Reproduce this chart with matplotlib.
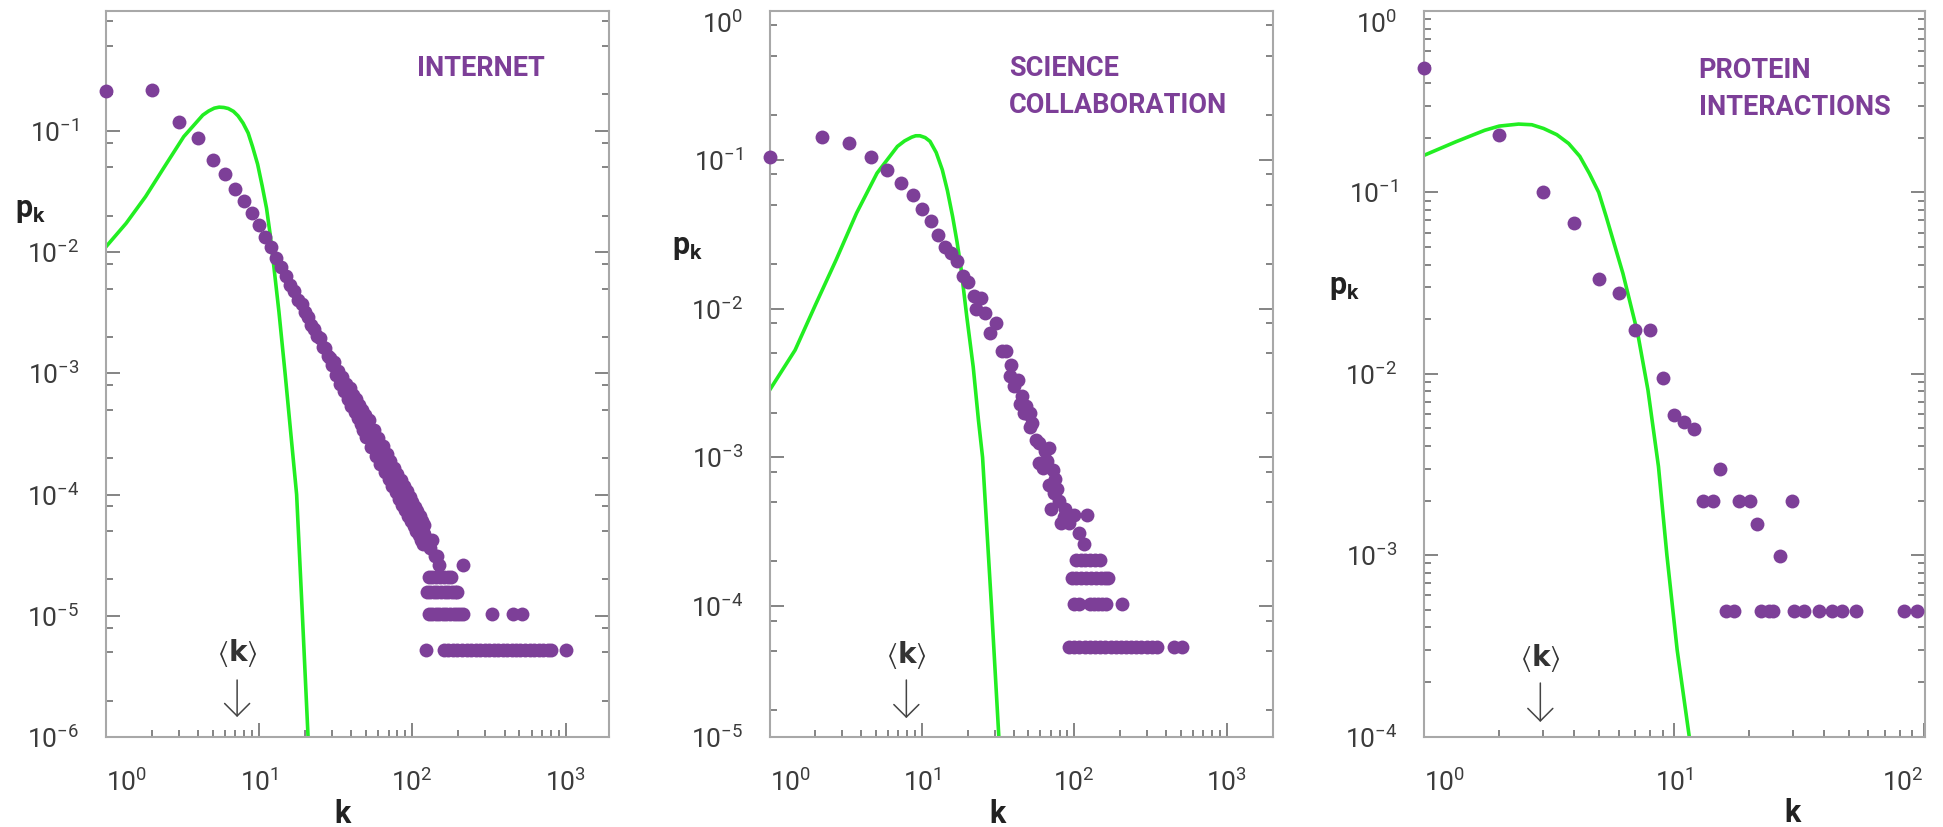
import numpy as np
import matplotlib
matplotlib.use("Agg")
import matplotlib.pyplot as plt
from matplotlib.ticker import FixedLocator, FixedFormatter, NullFormatter, LogLocator

plt.rcParams['font.family'] = ['Roboto', 'DejaVu Sans']
plt.rcParams['mathtext.default'] = 'regular'

PURPLE = '#7D3F98'
GREEN = '#22EE22'
SPINE = '#a8a8a8'
TICK = '#707070'
LABEL = '#3c3c3c'

# ---------------- INTERNET ----------------
int_k_main = [1, 2, 3, 4, 5, 6, 7, 8, 9,
              10, 11, 12, 13, 14, 15, 16, 17, 18, 19, 20, 21, 22, 23, 24, 25, 26, 27, 28, 29, 30,
              31, 32, 33, 34, 35, 36, 37, 38, 39, 40, 41, 42, 43, 44, 45, 46, 47, 48, 49, 50,
              52, 54, 56, 58, 60, 62, 64, 66, 68, 70, 72, 74, 76, 78, 80, 82, 84, 86, 88, 90,
              92, 94, 96, 98, 100, 102, 104, 106, 108, 110, 112, 114, 116, 118, 120,
              51, 53, 55, 57, 59, 61, 63, 65, 67, 69, 71, 73, 75, 77, 79, 81, 83, 85, 87, 89,
              91, 93, 95, 97, 99, 101, 103, 105, 107, 109, 111, 113, 115, 117, 119,
              125, 130, 135, 140, 144, 150]
int_p_main = [0.214, 0.218, 0.119, 0.087, 0.057, 0.044, 0.033, 0.0264, 0.0209,
              0.0166, 0.0132, 0.0110, 0.0089, 0.0076, 0.0063, 0.0054, 0.0048, 0.0040, 0.0037, 0.0032,
              0.0029, 0.0025, 0.00234, 0.00204, 0.00195, 0.00166, 0.00162, 0.00138, 0.00135, 0.00117,
              0.00124, 0.00097, 0.00104, 0.00082, 0.00094, 0.00071, 0.00082, 0.00062, 0.00075, 0.00054,
              0.00066, 0.00048, 0.00061, 0.00043, 0.00055, 0.00038, 0.00050, 0.00034, 0.00045, 0.00030,
              4.10e-4, 2.48e-4, 3.44e-4, 2.09e-4, 2.92e-4, 1.79e-4, 2.51e-4, 1.54e-4, 2.17e-4, 1.34e-4,
              1.90e-4, 1.17e-4, 1.67e-4, 1.04e-4, 1.48e-4, 9.2e-5, 1.32e-4, 8.2e-5, 1.18e-4, 7.4e-5,
              1.06e-4, 6.7e-5, 9.6e-5, 6.0e-5, 8.7e-5, 5.5e-5, 7.9e-5, 5.0e-5, 7.3e-5, 4.6e-5,
              6.7e-5, 4.2e-5, 6.1e-5, 3.9e-5, 5.6e-5,
              3.49e-4, 3.18e-4, 2.92e-4, 2.68e-4, 2.47e-4, 2.29e-4, 2.12e-4, 1.97e-4, 1.83e-4, 1.71e-4,
              1.59e-4, 1.49e-4, 1.40e-4, 1.32e-4, 1.24e-4, 1.17e-4, 1.10e-4, 1.04e-4, 9.8e-5, 9.3e-5,
              8.9e-5, 8.4e-5, 8.0e-5, 7.6e-5, 7.2e-5, 6.9e-5, 6.6e-5, 6.3e-5, 6.0e-5, 5.8e-5,
              5.5e-5, 5.3e-5, 5.1e-5, 4.9e-5, 4.7e-5,
              0.000042, 0.000036, 0.000042, 0.000031, 0.000031, 0.000026]
int_tail_levels = [5.2e-6, 1.04e-5, 1.56e-5, 2.08e-5, 2.6e-5]
int_tail_k1 = [122, 161, 172, 184, 197, 211, 226, 242, 259, 277, 296, 317, 339, 363, 388, 415,
               444, 475, 508, 544, 582, 623, 667, 714, 764, 804, 1012]
int_tail_k2 = [128, 135, 142, 150, 158, 167, 176, 186, 196, 206, 214, 330, 453, 523]
int_tail_k3 = [124, 131, 138, 146, 154, 163, 172, 181, 190, 197]
int_tail_k4 = [128, 135, 143, 151, 160, 170, 180]
int_tail_k5 = [214]
int_fit_k = [1.0, 1.36, 1.82, 2.42, 3.23, 4.30, 4.7, 5.11, 5.5, 5.90, 6.3, 6.81, 7.3, 7.87,
             8.5, 9.08, 9.8, 10.5, 11.2, 11.8, 12.2, 13.5, 14.8, 17.6, 19.2, 20.9, 21.5]
int_fit_p = [0.011, 0.0173, 0.0287, 0.0507, 0.0897, 0.135, 0.146, 0.154, 0.157, 0.156, 0.153,
             0.145, 0.133, 0.116, 0.096, 0.074, 0.053, 0.035, 0.023, 0.0143, 0.010, 0.0032,
             0.001, 1e-4, 1e-5, 1e-6, 3e-7]
int_mean_k = 7.2

# ---------------- SCIENCE COLLABORATION ----------------
sci_k_main = [1, 2.2, 3.3, 4.6, 5.9, 7.3, 8.7, 10, 11.5, 12.8,
              14.2, 15.6, 17.1, 18.6, 20.1, 22.1, 22.8, 24.5, 26.1, 28.1,
              30.5, 33.4, 35.5, 37.8, 38.5, 42.8, 44.2, 45.5, 47, 48.4,
              50, 51.5, 51.5, 58.3, 58.3, 62, 64, 68, 68, 70,
              72, 75, 77, 79, 82, 87, 99, 108, 115, 122,
              40, 53, 56, 66, 74, 85, 92]
sci_p_main = [0.105, 0.142, 0.129, 0.105, 0.085, 0.070, 0.058, 0.047, 0.039, 0.031,
              0.026, 0.0235, 0.021, 0.0166, 0.0152, 0.0121, 0.0100, 0.0118, 0.0093, 0.0069,
              0.0080, 0.0052, 0.0052, 0.0035, 0.0042, 0.0033, 0.0023, 0.0026, 0.0020, 0.0022,
              0.00197, 0.0020, 0.0016, 0.00124, 0.00091, 0.00085, 0.00111, 0.00115, 0.00065, 0.00045,
              0.00082, 0.00072, 0.00061, 0.00051, 0.00036, 0.00045, 0.00041, 0.00031, 0.00026, 0.00041,
              0.0030, 0.0017, 0.0013, 0.00095, 0.00058, 0.00040, 0.00036]
sci_tail_levels = [5.3e-5, 1.04e-4, 1.55e-4, 2.05e-4]
sci_tail_k1 = [93, 100, 108, 117, 127, 137, 148, 160, 173, 187, 202, 218, 236, 255, 276, 298,
               322, 350, 449, 507]
sci_tail_k2 = [100, 108, 126, 134, 143, 152, 161, 207]
sci_tail_k3 = [96, 103, 111, 119, 128, 138, 149, 160, 167]
sci_tail_k4 = [102, 110, 118, 127, 137, 148]
sci_fit_k = [1.0, 1.47, 2.0, 2.73, 3.72, 5.07, 6.90, 7.7, 8.57, 9.1, 9.70, 10.5, 11.3, 12.4,
             13.6, 14.7, 15.9, 17.0, 18.0, 19.7, 21.7, 23.5, 25.0, 28.6, 32.0, 33.0]
sci_fit_p = [0.00283, 0.00526, 0.0106, 0.0212, 0.0438, 0.0813, 0.123, 0.134, 0.142, 0.145, 0.145,
             0.141, 0.133, 0.112, 0.0857, 0.062, 0.0415, 0.028, 0.0191, 0.0088, 0.00406, 0.00177,
             0.001, 1e-4, 1.3e-5, 7e-6]
sci_mean_k = 7.9

# ---------------- PROTEIN INTERACTIONS ----------------
pro_k = [1, 2, 3, 4, 5, 6, 7, 8, 9, 10, 11, 12, 13.1, 14.3, 15.3, 18.2, 20.2, 21.4, 26.5, 29.7,
         16.1, 17.4, 22.3, 24.1, 25.0, 30.3, 33.0, 37.9, 42.9, 47.2, 53.4, 83.5, 93.7]
pro_p = [0.485, 0.207, 0.1007, 0.068, 0.0335, 0.0277, 0.0174, 0.0174, 0.00944, 0.0059, 0.00544,
         0.00494, 0.00199, 0.00199, 0.00297, 0.00199, 0.00199, 0.00148, 0.00099, 0.00199,
         4.95e-4, 4.95e-4, 4.95e-4, 4.95e-4, 4.95e-4, 4.95e-4, 4.95e-4, 4.95e-4, 4.95e-4,
         4.95e-4, 4.95e-4, 4.95e-4, 4.95e-4]
pro_fit_k = [1.0, 1.34, 1.75, 2.0, 2.39, 2.7, 3.01, 3.4, 3.79, 4.2, 4.59, 5.0, 5.36, 6.25,
             7.16, 7.87, 8.67, 9.37, 10.3, 11.5, 11.8]
pro_fit_p = [0.160, 0.190, 0.220, 0.232, 0.238, 0.236, 0.225, 0.208, 0.186, 0.158, 0.127,
             0.100, 0.0733, 0.0357, 0.0167, 0.00813, 0.00308, 0.001, 0.0003, 0.000101, 7e-5]
pro_mean_k = 2.92

# ---------------- axes text ----------------
titles = ['INTERNET', 'SCIENCE\nCOLLABORATION', 'PROTEIN\nINTERACTIONS']
x_ticks_13 = [1, 10, 100, 1000]
x_labels_13 = ['$10^{0}$', '$10^{1}$', '$10^{2}$', '$10^{3}$']
x_ticks_3 = [1, 10, 100]
x_labels_3 = ['$10^{0}$', '$10^{1}$', '$10^{2}$']
y_ticks_1 = [1, 1e-1, 1e-2, 1e-3, 1e-4, 1e-5, 1e-6]
y_labels_1 = ['$10^{0}$', '$10^{-1}$', '$10^{-2}$', '$10^{-3}$', '$10^{-4}$', '$10^{-5}$', '$10^{-6}$']
y_ticks_2 = [1, 1e-1, 1e-2, 1e-3, 1e-4, 1.32e-5]
y_labels_2 = ['$10^{0}$', '$10^{-1}$', '$10^{-2}$', '$10^{-3}$', '$10^{-4}$', '$10^{-5}$']
y_ticks_3 = [1, 1e-1, 1e-2, 1e-3, 1e-4]
y_labels_3 = ['$10^{0}$', '$10^{-1}$', '$10^{-2}$', '$10^{-3}$', '$10^{-4}$']

W, H = 1943, 827
fig = plt.figure(figsize=(W / 100, H / 100), dpi=100)


def add_ax(x0, x1, y0, y1):
    return fig.add_axes([x0 / W, (H - y1) / H, (x1 - x0) / W, (y1 - y0) / H])


def setup(ax, xlim, ylim, xt, xl, yt, yl, ysubs):
    ax.set_xscale('log')
    ax.set_yscale('log')
    ax.set_xlim(*xlim)
    ax.set_ylim(*ylim)
    ax.xaxis.set_major_locator(FixedLocator(xt))
    ax.xaxis.set_major_formatter(FixedFormatter(xl))
    ax.xaxis.set_minor_locator(LogLocator(base=10, subs=np.arange(2, 10), numticks=50))
    ax.xaxis.set_minor_formatter(NullFormatter())
    ax.yaxis.set_major_locator(FixedLocator(yt))
    ax.yaxis.set_major_formatter(FixedFormatter(yl))
    ax.yaxis.set_minor_locator(LogLocator(base=10, subs=ysubs, numticks=50))
    ax.yaxis.set_minor_formatter(NullFormatter())
    ax.tick_params(which='both', direction='in', top=False, right=True, color=TICK, width=1.2)
    ax.tick_params(which='major', length=10)
    ax.tick_params(which='minor', length=5)
    ax.tick_params(axis='x', which='major', pad=23, labelsize=19, labelcolor=LABEL)
    ax.tick_params(axis='y', which='major', pad=19, labelsize=19, labelcolor=LABEL)
    for s in ax.spines.values():
        s.set_color(SPINE)
        s.set_linewidth(1.5)
    ax.set_xlabel('k', fontsize=22, fontweight='bold', color='#222222', va='baseline')
    ax.set_ylabel('$p_k$', fontsize=22, fontweight='bold', color='#222222', rotation=0,
                  ha='center', va='center')


def align_labels(ax, last_right=False):
    fig.canvas.draw()
    xl = ax.get_xticklabels()
    xl[0].set_ha('left')
    if last_right:
        xl[-1].set_ha('right')
    ax.get_yticklabels()[0].set_va('top')


def title(ax, x, y, s):
    ax.text(x, y, s, transform=ax.transAxes, ha='left', va='top', fontsize=19.5,
            fontweight='bold', color=PURPLE, linespacing=1.48)


def mean_marker(ax, kmean, ytext, ytail, ytip):
    tr = ax.get_xaxis_transform()
    ax.text(kmean, ytext, r'$\langle\mathbf{k}\rangle$', transform=tr, ha='center', va='center',
            fontsize=20, color='#333333')
    ax.annotate('', xy=(kmean, ytip), xytext=(kmean, ytail), xycoords=tr, textcoords=tr,
                arrowprops=dict(arrowstyle='->,head_length=0.6,head_width=0.6', color='#444444',
                                lw=1.1, mutation_scale=15, shrinkA=0, shrinkB=0))


def dots(ax, k, p):
    ax.plot(k, p, 'o', ms=10, color=PURPLE, mec='none', clip_on=False, zorder=3)


# ----- panel 1 -----
ax1 = add_ax(105.7, 609, 11, 737)
setup(ax1, (1, 1920), (1e-6, 0.975), x_ticks_13, x_labels_13, y_ticks_1, y_labels_1, (2, 5, 8))
ax1.plot(int_fit_k, int_fit_p, color=GREEN, lw=2.6, zorder=2)
dots(ax1, int_k_main, int_p_main)
for lev, ks in zip(int_tail_levels, [int_tail_k1, int_tail_k2, int_tail_k3, int_tail_k4, int_tail_k5]):
    dots(ax1, ks, [lev] * len(ks))
title(ax1, 0.619, 0.939, titles[0])
mean_marker(ax1, int_mean_k, 0.1157, 0.0785, 0.0275)
ax1.xaxis.set_label_coords(0.47, -0.118)
ax1.yaxis.set_label_coords(-0.15, 0.726)

# ----- panel 2 -----
ax2 = add_ax(769.6, 1272.5, 11, 737)
setup(ax2, (1, 2000), (1.32e-5, 1.0), x_ticks_13, x_labels_13, y_ticks_2, y_labels_2, (2, 5, 8))
ax2.plot(sci_fit_k, sci_fit_p, color=GREEN, lw=2.6, zorder=2)
dots(ax2, sci_k_main, sci_p_main)
for lev, ks in zip(sci_tail_levels, [sci_tail_k1, sci_tail_k2, sci_tail_k3, sci_tail_k4]):
    dots(ax2, ks, [lev] * len(ks))
title(ax2, 0.476, 0.939, titles[1])
mean_marker(ax2, sci_mean_k, 0.113, 0.0785, 0.026)
ax2.xaxis.set_label_coords(0.454, -0.118)
ax2.yaxis.set_label_coords(-0.163, 0.675)

# ----- panel 3 -----
ax3 = add_ax(1424, 1925, 11, 736.5)
setup(ax3, (1, 101), (1e-4, 1.0), x_ticks_3, x_labels_3, y_ticks_3, y_labels_3, np.arange(2, 10))
ax3.plot(pro_fit_k, pro_fit_p, color=GREEN, lw=2.6, zorder=2)
dots(ax3, pro_k, pro_p)
title(ax3, 0.548, 0.937, titles[2])
mean_marker(ax3, pro_mean_k, 0.108, 0.0737, 0.020)
ax3.xaxis.set_label_coords(0.735, -0.118)
ax3.yaxis.set_label_coords(-0.159, 0.62)

align_labels(ax1)
align_labels(ax2)
align_labels(ax3, last_right=True)

fig.savefig('out.png', dpi=100)
